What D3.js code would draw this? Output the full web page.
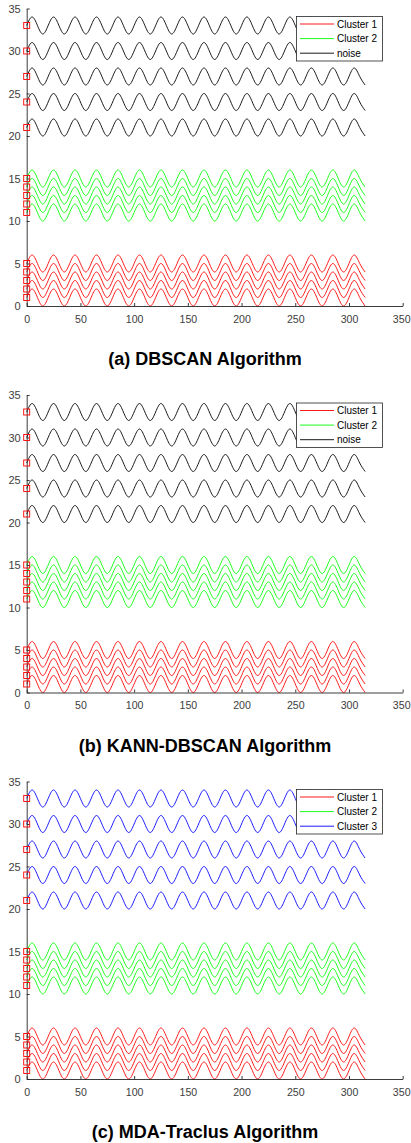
<!DOCTYPE html>
<html>
<head>
<meta charset="utf-8">
<script src="https://cdn.jsdelivr.net/npm/d3@7"></script>
<style>
    body { margin: 0; background: #fff; }
    svg { display: block; }
    text { font-family: "Liberation Sans", Arial, sans-serif; }
</style>
</head>
<body>
<div id="chart"></div>
<script>
// sample x positions of one wave (extrema and zero crossings)
var waveX = [0, 5, 10, 15, 20, 25, 30, 35, 40, 45, 50, 55, 60, 65, 70, 75, 80, 85, 90, 95,
    100, 105, 110, 115, 120, 125, 130, 135, 140, 145, 150, 155, 160, 165, 170, 175, 180, 185, 190, 195,
    200, 205, 210, 215, 220, 225, 230, 235, 240, 245, 250, 255, 260, 265, 270, 275, 280, 285, 290, 295,
    300, 305, 310, 315];
var waveY = [0, 1, 0, -1, 0, 1, 0, -1, 0, 1, 0, -1, 0, 1, 0, -1, 0, 1, 0, -1,
    0, 1, 0, -1, 0, 1, 0, -1, 0, 1, 0, -1, 0, 1, 0, -1, 0, 1, 0, -1,
    0, 1, 0, -1, 0, 1, 0, -1, 0, 1, 0, -1, 0, 1, 0, -1, 0, 1, 0, -1,
    0, 1, 0, -1];

// starting level of each trajectory
var group1Offsets = [1, 2, 3, 4, 5];
var group2Offsets = [11, 12, 13, 14, 15];
var group3Offsets = [21, 24, 27, 30, 33];

var xTicks = [0, 50, 100, 150, 200, 250, 300, 350];
var yTicks = [0, 5, 10, 15, 20, 25, 30, 35];

var panelTitles = ["(a) DBSCAN Algorithm", "(b) KANN-DBSCAN Algorithm", "(c) MDA-Traclus Algorithm"];
var panelLabels = [
    ["Cluster 1", "Cluster 2", "noise"],
    ["Cluster 1", "Cluster 2", "noise"],
    ["Cluster 1", "Cluster 2", "Cluster 3"]
];
var panelColors = [
    ["#ff0000", "#00ff00", "#000000"],
    ["#ff0000", "#00ff00", "#000000"],
    ["#ff0000", "#00ff00", "#0000ff"]
];

var W = 411, H = 1143;
var panelTop = [0, 386.5, 773];
var axisColor = "#262626";

var svg = d3.select("#chart").append("svg")
    .attr("width", W)
    .attr("height", H);

var x = d3.scaleLinear().domain([0, 350]).range([26.7, 402.7]);
var y = d3.scaleLinear().domain([0, 35]).range([306, 8.5]);

var line = d3.line()
    .x(function(d){ return x(d[0]); })
    .y(function(d){ return y(d[1]); })
    .curve(d3.curveNatural);

function trajectory(offset){
    return waveX.map(function(xv, i){ return [xv, offset + waveY[i]]; });
}

function drawPanel(p){
    var g = svg.append("g").attr("transform", "translate(0," + panelTop[p] + ")");
    var groups = [group1Offsets, group2Offsets, group3Offsets];

    var plot = g.append("g");
    groups.forEach(function(offsets, gi){
        plot.selectAll(null)
            .data(offsets)
            .enter().append("path")
            .attr("d", function(d){ return line(trajectory(d)); })
            .attr("fill", "none")
            .attr("stroke", panelColors[p][gi])
            .attr("stroke-width", 0.9);
    });

    // axes (ticks inward, matlab style)
    var xAxis = g.append("g")
        .attr("transform", "translate(0," + y(0) + ")")
        .call(d3.axisBottom(x).tickValues(xTicks).tickSizeInner(-3).tickSizeOuter(0).tickPadding(9));
    var yAxis = g.append("g")
        .attr("transform", "translate(" + x(0) + ",0)")
        .call(d3.axisLeft(y).tickValues(yTicks).tickSizeInner(-3).tickSizeOuter(0).tickPadding(6));
    [xAxis, yAxis].forEach(function(a){
        a.select(".domain").attr("stroke", axisColor).attr("stroke-width", 0.9);
        a.selectAll(".tick line").attr("stroke", axisColor).attr("stroke-width", 0.9);
        a.selectAll(".tick text")
            .attr("fill", "#404040")
            .style("font-family", "'Liberation Sans', Arial, sans-serif")
            .style("font-size", "11px");
    });
    xAxis.selectAll(".tick text").style("font-size", "10.6px");
    // keep the last label inside the window
    xAxis.selectAll(".tick text").filter(function(d){ return d === 350; }).attr("dx", -1.5);

    // start markers, drawn over the axis line
    var starts = group1Offsets.concat(group2Offsets, group3Offsets);
    g.append("g").selectAll("rect")
        .data(starts)
        .enter().append("rect")
        .attr("x", x(0) - 3)
        .attr("y", function(d){ return y(d) - 3; })
        .attr("width", 6)
        .attr("height", 6)
        .attr("fill", "none")
        .attr("stroke", "#ff0000")
        .attr("stroke-width", 0.9);

    // legend
    var lg = g.append("g");
    lg.append("rect")
        .attr("x", 296.5).attr("y", 16.5)
        .attr("width", 86).attr("height", 44.5)
        .attr("fill", "#fff")
        .attr("stroke", axisColor)
        .attr("stroke-width", 0.8);
    panelLabels[p].forEach(function(label, i){
        var ly = 24 + i * 14.6;
        lg.append("line")
            .attr("x1", 300).attr("x2", 334)
            .attr("y1", ly).attr("y2", ly)
            .attr("stroke", panelColors[p][i])
            .attr("stroke-width", 0.9);
        lg.append("text")
            .attr("x", 337).attr("y", ly)
            .attr("dy", "0.35em")
            .attr("fill", "#000")
            .style("font-size", "10px")
            .text(label);
    });

    g.append("text")
        .attr("x", 205).attr("y", 365)
        .attr("text-anchor", "middle")
        .style("font-size", "18px")
        .style("font-weight", "bold")
        .attr("fill", "#000")
        .text(panelTitles[p]);
}

for (var p = 0; p < 3; p++) drawPanel(p);
</script>
</body>
</html>
